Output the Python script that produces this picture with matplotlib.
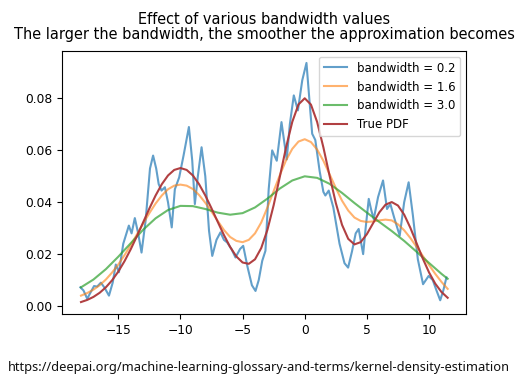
import matplotlib
matplotlib.use("Agg")
import matplotlib.pyplot as plt

# values
grid_x = [-18, -17.5, -17, -16.5, -16, -15.5, -15, -14.5, -14, -13.5, -13, -12.5,
          -12, -11.5, -11, -10.5, -10, -9.5, -9, -8.5, -8, -7.5, -7, -6.5, -6,
          -5.5, -5, -4.5, -4, -3.5, -3, -2.5, -2, -1.5, -1, -0.5, 0, 0.5, 1, 1.5,
          2, 2.5, 3, 3.5, 4, 4.5, 5, 5.5, 6, 6.5, 7, 7.5, 8, 8.5, 9, 9.5, 10,
          10.5, 11, 11.5]

true_pdf = [0.00152, 0.00234, 0.00350, 0.00509, 0.00720, 0.00991, 0.01326, 0.01727,
            0.02187, 0.02693, 0.03226, 0.03759, 0.04259, 0.04694, 0.05032, 0.05246,
            0.05319, 0.05246, 0.05032, 0.04695, 0.04262, 0.03766, 0.03244, 0.02734,
            0.02275, 0.01909, 0.01677, 0.01626, 0.01800, 0.02234, 0.02940, 0.03887,
            0.04991, 0.06119, 0.07102, 0.07772, 0.08008, 0.07765, 0.07092, 0.06117,
            0.05017, 0.03971, 0.03130, 0.02588, 0.02375, 0.02461, 0.02770, 0.03193,
            0.03609, 0.03907, 0.04007, 0.03874, 0.03523, 0.03012, 0.02420, 0.01827,
            0.01295, 0.00863, 0.00540, 0.00317]

kde_bw16 = [0.0040, 0.0050, 0.0063, 0.0080, 0.0102, 0.0129, 0.0160, 0.0196, 0.0235,
            0.0276, 0.0318, 0.0358, 0.0395, 0.0426, 0.0450, 0.0464, 0.0468, 0.0464,
            0.0451, 0.0428, 0.0398, 0.0364, 0.0328, 0.0293, 0.0266, 0.0251, 0.0246,
            0.0255, 0.0280, 0.0322, 0.0380, 0.0443, 0.0505, 0.0562, 0.0606, 0.0634,
            0.0643, 0.0632, 0.0603, 0.0560, 0.0508, 0.0455, 0.0406, 0.0368, 0.0341,
            0.0328, 0.0324, 0.0326, 0.0330, 0.0333, 0.0330, 0.0315, 0.0292, 0.0262,
            0.0228, 0.0193, 0.0158, 0.0124, 0.0093, 0.0066]

bw30_x = [-18, -17, -16, -15, -14, -13, -12, -11, -10, -9, -8, -7, -6, -5, -4, -3,
          -2, -1, 0, 1, 2, 3, 4, 5, 6, 7, 8, 9, 10, 11, 11.5]
kde_bw30 = [0.0072, 0.0102, 0.0142, 0.0190, 0.0242, 0.0294, 0.0338, 0.0370, 0.0386,
            0.0385, 0.0374, 0.0360, 0.0352, 0.0358, 0.0380, 0.0414, 0.0453, 0.0484,
            0.0500, 0.0494, 0.0471, 0.0436, 0.0397, 0.0360, 0.0324, 0.0289, 0.0251,
            0.0209, 0.0166, 0.0124, 0.0105]

bw02_x = [-18.05, -17.8, -17.5, -17.2, -16.95, -16.7, -16.4, -16.1, -15.75, -15.45,
          -15.2, -14.95, -14.6, -14.15, -13.93, -13.67, -13.4, -13.13, -12.8, -12.45,
          -12.2, -11.95, -11.75, -11.52, -11.25, -11.0, -10.7, -10.45, -10.1, -9.75,
          -9.32, -9.05, -8.84, -8.6, -8.3, -8.0, -7.7, -7.44, -7.1, -6.78, -6.5,
          -6.24, -5.9, -5.57, -5.2, -4.95, -4.6, -4.25, -3.96, -3.7, -3.42, -3.16,
          -2.9, -2.62, -2.25, -1.87, -1.45, -1.2, -0.88, -0.55, -0.2, 0.14, 0.4,
          0.6, 0.85, 1.2, 1.5, 1.66, 1.93, 2.3, 2.8, 3.2, 3.49, 3.8, 4.1, 4.34,
          4.55, 4.7, 4.9, 5.15, 5.35, 5.55, 5.9, 6.3, 6.62, 6.89, 7.2, 7.64, 8.0,
          8.36, 8.7, 9.1, 9.52, 9.97, 10.3, 10.6, 10.9, 11.15, 11.4]
kde_bw02 = [0.0072, 0.0060, 0.0028, 0.0055, 0.0077, 0.0075, 0.0090, 0.0070, 0.0040,
            0.0090, 0.0160, 0.0130, 0.0240, 0.0310, 0.0280, 0.0339, 0.0280, 0.0206,
            0.0330, 0.0530, 0.0580, 0.0530, 0.0470, 0.0445, 0.0458, 0.0400, 0.0303,
            0.0450, 0.0496, 0.0580, 0.0690, 0.0560, 0.0393, 0.0500, 0.0612, 0.0500,
            0.0290, 0.0193, 0.0255, 0.0284, 0.0255, 0.0245, 0.0220, 0.0187, 0.0220,
            0.0232, 0.0150, 0.0080, 0.0058, 0.0100, 0.0174, 0.0213, 0.0450, 0.0600,
            0.0560, 0.0709, 0.0565, 0.0700, 0.0812, 0.0754, 0.0870, 0.0937, 0.0780,
            0.0664, 0.0640, 0.0520, 0.0440, 0.0426, 0.0445, 0.0380, 0.0240, 0.0165,
            0.0148, 0.0210, 0.0280, 0.0297, 0.0240, 0.0200, 0.0300, 0.0413, 0.0370,
            0.0335, 0.0420, 0.0484, 0.0374, 0.0393, 0.0340, 0.0271, 0.0400, 0.0477,
            0.0350, 0.0180, 0.0084, 0.0116, 0.0100, 0.0060, 0.0022, 0.0060, 0.0110]

fig = plt.figure(figsize=(5.26, 3.87), dpi=100)
ax = fig.add_axes([0.1179, 0.1886, 0.7681, 0.6796])

ax.plot(bw02_x, kde_bw02, color="tab:blue", alpha=0.7, lw=1.5, label="bandwidth = 0.2")
ax.plot(grid_x, kde_bw16, color="tab:orange", alpha=0.6, lw=1.5, label="bandwidth = 1.6")
ax.plot(bw30_x, kde_bw30, color="tab:green", alpha=0.7, lw=1.5, label="bandwidth = 3.0")
ax.plot(grid_x, true_pdf, color="#ad3638", alpha=0.95, lw=1.5, label="True PDF")

ax.set_xticks([-15, -10, -5, 0, 5, 10])
ax.set_yticks([0.00, 0.02, 0.04, 0.06, 0.08])
ax.tick_params(labelsize=8.8)
ax.set_title("Effect of various bandwidth values\n"
             "The larger the bandwidth, the smoother the approximation becomes",
             fontsize=10.45, linespacing=1.05, pad=8.5)
ax.legend(loc="upper right", fontsize=8.5)

fig.text(8 / 526, 1 - 367 / 387,
         "https://deepai.org/machine-learning-glossary-and-terms/kernel-density-estimation",
         fontsize=9.25, family="Noto Sans", color="#111111", va="center", ha="left")

fig.savefig("out.png", dpi=100)
